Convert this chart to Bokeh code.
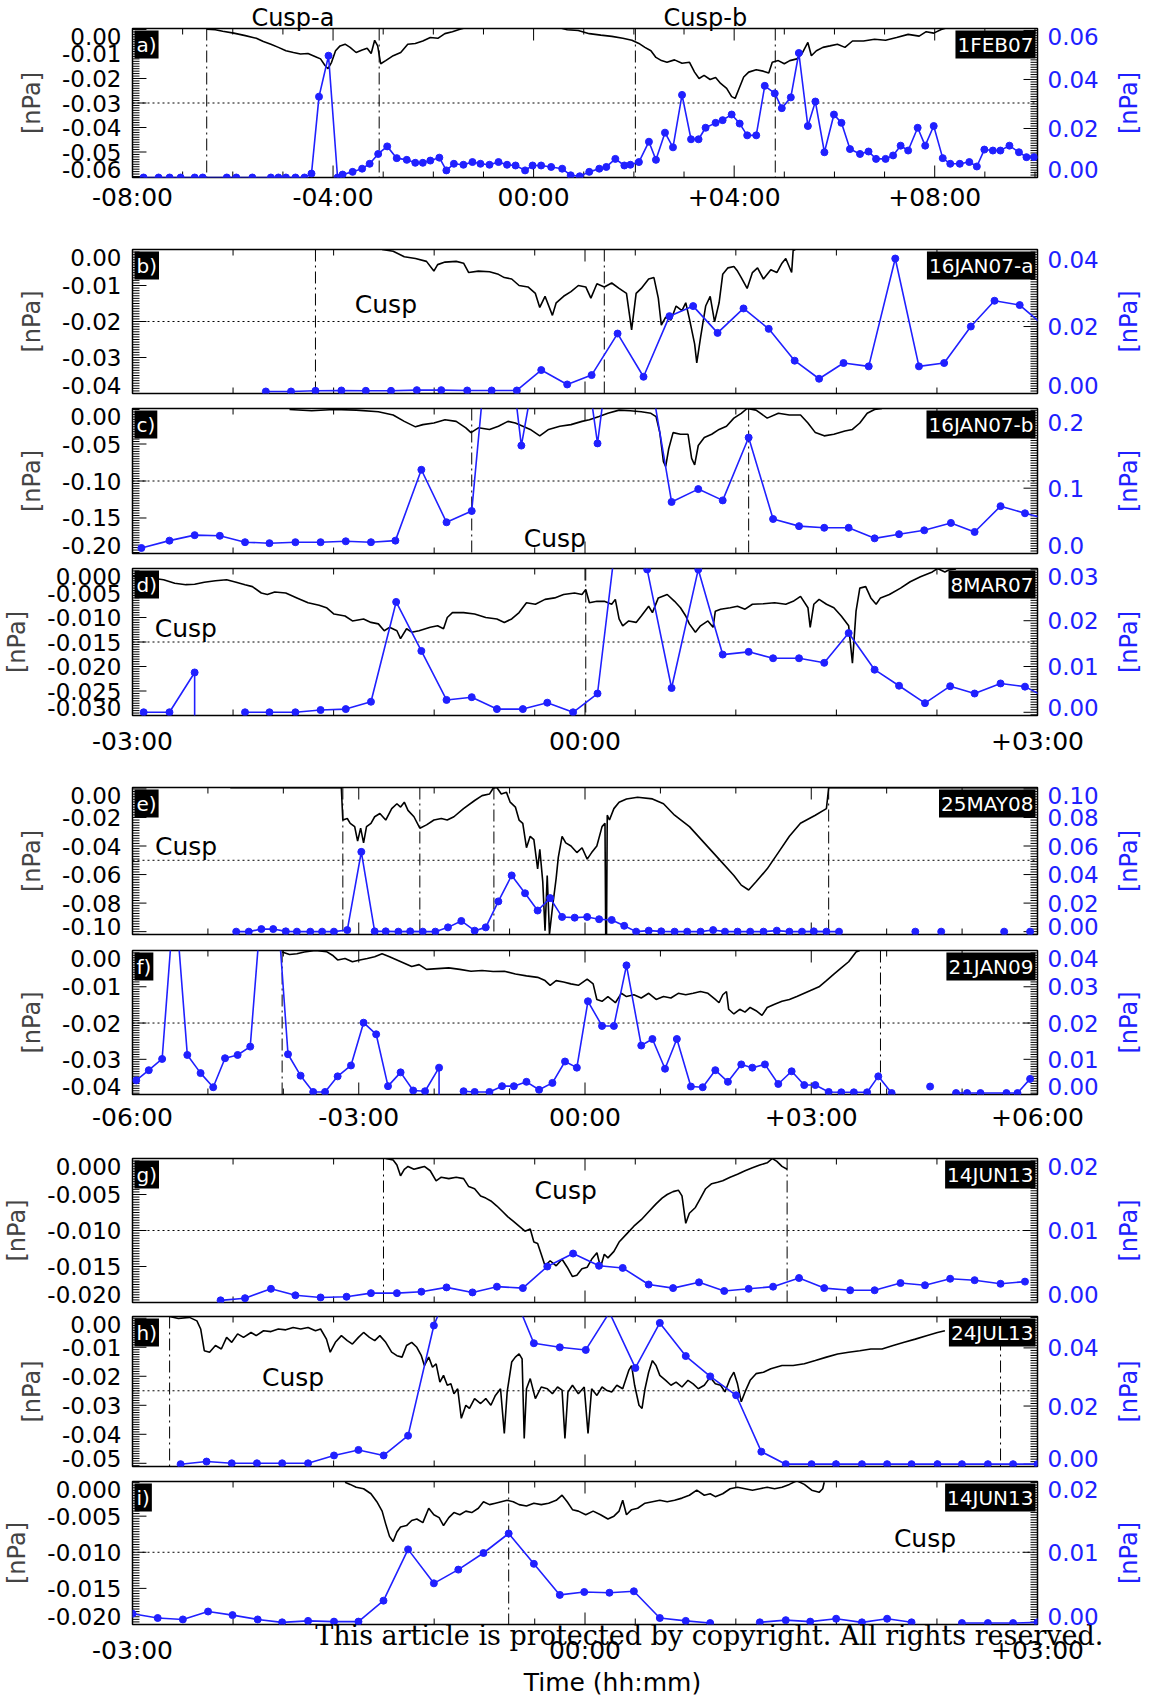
import math
from bokeh.plotting import figure
from bokeh.models import (Range1d, Span, Label, LinearAxis, FixedTicker,
                          CustomJSTickFormatter)
from bokeh.layouts import column
from bokeh.embed import file_html
from bokeh.resources import INLINE

NAN = float("nan")
SANS = "DejaVu Sans"
SERIF = "DejaVu Serif"
BLUE = "#2020ff"
FRAME_W = 907
BORDER_L = 130
BORDER_R = 123
TICK_PX = 23

# ---------------------------------------------------------------- data
# Each series: (time in hours from reference, pressure in nPa).
# Black = left axis (magnetic pressure change), blue = right axis.

A_BLACK = [(-6.52, 0.0001), (-6.35, -0.0001), (-6.20, -0.0007), (-5.98, -0.0015), (-5.75, -0.0025),
           (-5.53, -0.0036), (-5.39, -0.0049), (-5.24, -0.0060), (-5.09, -0.0073), (-4.94, -0.0087),
           (-4.79, -0.0094), (-4.65, -0.0100), (-4.50, -0.0098), (-4.35, -0.0111), (-4.25, -0.0120),
           (-4.16, -0.0147), (-4.10, -0.0160), (-4.03, -0.0134), (-3.95, -0.0087), (-3.86, -0.0067),
           (-3.76, -0.0060), (-3.66, -0.0073), (-3.54, -0.0094), (-3.42, -0.0084), (-3.32, -0.0077),
           (-3.24, -0.0098), (-3.17, -0.0044), (-3.11, -0.0067), (-3.05, -0.0140), (-2.95, -0.0127),
           (-2.80, -0.0107), (-2.65, -0.0094), (-2.51, -0.0060), (-2.36, -0.0057), (-2.21, -0.0047),
           (-2.06, -0.0033), (-1.91, -0.0036), (-1.77, -0.0017), (-1.62, -0.0009), (-1.47, 0.0001),
           (-1.32, 0.0009), (-0.29, 0.0020), (0.52, 0.0007), (0.67, -0.0001), (0.89, -0.0004),
           (1.11, -0.0017), (1.34, -0.0023), (1.56, -0.0028), (1.78, -0.0036), (1.96, -0.0044),
           (2.10, -0.0057), (2.22, -0.0073), (2.34, -0.0087), (2.44, -0.0114), (2.55, -0.0127),
           (2.66, -0.0134), (2.81, -0.0124), (2.96, -0.0138), (3.11, -0.0134), (3.21, -0.0174),
           (3.30, -0.0200), (3.40, -0.0187), (3.52, -0.0204), (3.63, -0.0196), (3.73, -0.0220),
           (3.85, -0.0240), (3.95, -0.0274), (4.02, -0.0281), (4.10, -0.0240), (4.19, -0.0194),
           (4.29, -0.0174), (4.44, -0.0164), (4.58, -0.0170), (4.69, -0.0178), (4.76, -0.0134),
           (4.88, -0.0127), (5.00, -0.0140), (5.11, -0.0127), (5.25, -0.0120), (5.35, -0.0100),
           (5.47, -0.0053), (5.54, -0.0107), (5.64, -0.0087), (5.77, -0.0073), (5.91, -0.0067),
           (6.06, -0.0060), (6.21, -0.0073), (6.36, -0.0047), (6.58, -0.0047), (6.80, -0.0040),
           (7.02, -0.0044), (7.24, -0.0033), (7.47, -0.0020), (7.69, -0.0027), (7.83, -0.0009),
           (7.98, -0.0015), (8.13, 0.0000), (8.28, 0.0009)]
A_BLUE = [(-7.78, 0.0), (-7.48, 0.0), (-7.26, 0.0), (-7.04, 0.0), (-6.76, 0.0), (-6.60, 0.0), (-6.12, 0.0),
          (-5.93, 0.0), (-5.61, 0.0), (-5.24, 0.0), (-5.09, 0.0), (-4.94, 0.0), (-4.75, 0.0), (-4.57, 0.0),
          (-4.43, 0.0016), (-4.28, 0.0330), (-4.09, 0.0497), (-3.91, 0.0), (-3.81, 0.0012), (-3.61, 0.0023),
          (-3.42, 0.0036), (-3.27, 0.0056), (-3.10, 0.0096), (-2.92, 0.0127), (-2.73, 0.0079), (-2.53, 0.0072),
          (-2.36, 0.0060), (-2.21, 0.0060), (-2.06, 0.0069), (-1.88, 0.0081), (-1.74, 0.0029), (-1.59, 0.0056),
          (-1.40, 0.0052), (-1.22, 0.0063), (-1.06, 0.0056), (-0.88, 0.0052), (-0.70, 0.0063), (-0.53, 0.0052),
          (-0.36, 0.0049), (-0.17, 0.0029), (-0.02, 0.0049), (0.15, 0.0049), (0.35, 0.0043), (0.57, 0.0036),
          (0.74, 0.0009), (0.92, 0.0005), (1.11, 0.0023), (1.31, 0.0036), (1.45, 0.0043), (1.63, 0.0076),
          (1.81, 0.0049), (1.93, 0.0052), (2.10, 0.0063), (2.30, 0.0146), (2.44, 0.0072), (2.62, 0.0183),
          (2.78, 0.0123), (2.96, 0.0337), (3.14, 0.0156), (3.29, 0.0156), (3.43, 0.0203), (3.63, 0.0223),
          (3.77, 0.0234), (3.95, 0.0257), (4.11, 0.0220), (4.26, 0.0172), (4.44, 0.0172), (4.61, 0.0374),
          (4.81, 0.0343), (4.95, 0.0283), (5.13, 0.0327), (5.29, 0.0508), (5.47, 0.0210), (5.62, 0.0310),
          (5.80, 0.0103), (5.99, 0.0257), (6.14, 0.0223), (6.31, 0.0116), (6.51, 0.0096), (6.68, 0.0106),
          (6.83, 0.0076), (7.02, 0.0076), (7.17, 0.0090), (7.32, 0.0130), (7.47, 0.0110), (7.66, 0.0203),
          (7.81, 0.0130), (7.98, 0.0210), (8.16, 0.0079), (8.31, 0.0056), (8.50, 0.0056), (8.69, 0.0063),
          (8.84, 0.0045), (8.99, 0.0114), (9.16, 0.0110), (9.31, 0.0110), (9.49, 0.0130), (9.68, 0.0103),
          (9.83, 0.0083), (9.98, 0.0083)]
A_BOUNDS = [-6.52, -3.08, 2.03, 4.82]

B_BLACK = [(-1.345, 0.0), (-1.272, -0.0005), (-1.198, -0.0020), (-1.124, -0.0025), (-1.051, -0.0033),
           (-1.002, -0.0060), (-0.977, -0.0042), (-0.928, -0.0035), (-0.854, -0.0033), (-0.805, -0.0038),
           (-0.771, -0.0064), (-0.707, -0.0060), (-0.633, -0.0062), (-0.574, -0.0069), (-0.535, -0.0078),
           (-0.486, -0.0082), (-0.437, -0.0100), (-0.378, -0.0104), (-0.329, -0.0122), (-0.300, -0.0161),
           (-0.265, -0.0130), (-0.216, -0.0183), (-0.191, -0.0148), (-0.142, -0.0130), (-0.093, -0.0117),
           (-0.044, -0.0100), (0.005, -0.0104), (0.039, -0.0135), (0.079, -0.0095), (0.128, -0.0104),
           (0.177, -0.0093), (0.226, -0.0108), (0.275, -0.0122), (0.309, -0.0223), (0.339, -0.0122),
           (0.373, -0.0108), (0.422, -0.0082), (0.457, -0.0078), (0.486, -0.0135), (0.506, -0.0210),
           (0.535, -0.0188), (0.570, -0.0196), (0.604, -0.0157), (0.643, -0.0170), (0.668, -0.0148),
           (0.692, -0.0192), (0.727, -0.0263), (0.741, -0.0315), (0.766, -0.0245), (0.800, -0.0157),
           (0.830, -0.0130), (0.859, -0.0201), (0.889, -0.0148), (0.913, -0.0069), (0.948, -0.0051),
           (0.987, -0.0047), (1.011, -0.0060), (1.036, -0.0078), (1.075, -0.0108), (1.110, -0.0064),
           (1.144, -0.0051), (1.183, -0.0082), (1.232, -0.0056), (1.272, -0.0064), (1.306, -0.0038),
           (1.331, -0.0025), (1.370, -0.0064), (1.380, -0.0003), (1.394, 0.0)]
B_BLUE = [(-2.116, 0.0006), (-1.949, 0.0006), (-1.787, 0.0008), (-1.615, 0.0009), (-1.453, 0.0008),
          (-1.286, 0.0008), (-1.115, 0.0010), (-0.953, 0.0010), (-0.781, 0.0009), (-0.619, 0.0009),
          (-0.452, 0.0009), (-0.290, 0.0070), (-0.118, 0.0027), (0.044, 0.0055), (0.216, 0.0179),
          (0.388, 0.0050), (0.560, 0.0231), (0.717, 0.0261), (0.879, 0.0181), (1.051, 0.0254),
          (1.218, 0.0193), (1.390, 0.0098), (1.552, 0.0044), (1.714, 0.0091), (1.881, 0.0081),
          (2.057, 0.0403), (2.214, 0.0081), (2.381, 0.0091), (2.558, 0.0200), (2.715, 0.0277),
          (2.882, 0.0264), (3.049, 0.0200)]
B_BOUNDS = [-1.787, 0.128]

C_BLACK = [(-1.959, -0.0033), (-1.812, -0.0050), (-1.664, -0.0033), (-1.517, -0.0042), (-1.370, -0.0064),
           (-1.272, -0.0107), (-1.198, -0.0194), (-1.124, -0.0268), (-1.075, -0.0238), (-1.002, -0.0216),
           (-0.928, -0.0172), (-0.854, -0.0194), (-0.790, -0.0281), (-0.756, -0.0346), (-0.707, -0.0281),
           (-0.633, -0.0303), (-0.574, -0.0259), (-0.511, -0.0194), (-0.462, -0.0216), (-0.412, -0.0259),
           (-0.363, -0.0303), (-0.300, -0.0390), (-0.241, -0.0303), (-0.167, -0.0259), (-0.093, -0.0238),
           (-0.020, -0.0194), (0.029, -0.0172), (0.093, -0.0129), (0.152, -0.0085), (0.226, -0.0042),
           (0.300, -0.0050), (0.373, -0.0064), (0.437, -0.0085), (0.471, -0.0129), (0.496, -0.0346),
           (0.520, -0.0738), (0.535, -0.0803), (0.555, -0.0564), (0.584, -0.0346), (0.633, -0.0368),
           (0.683, -0.0368), (0.707, -0.0694), (0.727, -0.0781), (0.751, -0.0520), (0.791, -0.0412),
           (0.840, -0.0368), (0.889, -0.0303), (0.938, -0.0259), (0.987, -0.0150), (1.036, -0.0085),
           (1.075, -0.0020), (1.134, -0.0042), (1.208, -0.0150), (1.282, -0.0085), (1.355, -0.0107),
           (1.429, -0.0107), (1.478, -0.0216), (1.527, -0.0346), (1.586, -0.0390), (1.650, -0.0368),
           (1.723, -0.0325), (1.773, -0.0303), (1.822, -0.0216), (1.871, -0.0085), (1.920, -0.0033),
           (1.969, -0.0020)]
C_BLUE = [(-2.941, 0.0084), (-2.755, 0.0197), (-2.588, 0.0281), (-2.421, 0.0271), (-2.254, 0.0173),
          (-2.092, 0.0158), (-1.920, 0.0173), (-1.753, 0.0173), (-1.586, 0.0187), (-1.419, 0.0173),
          (-1.257, 0.0197), (-1.085, 0.1282), (-0.918, 0.0478), (-0.751, 0.0651), (-0.584, 0.48),
          (-0.422, 0.1652), (-0.255, 0.38), (-0.088, 0.45), (0.083, 0.1686), (0.250, 0.47),
          (0.412, 0.30), (0.574, 0.0789), (0.751, 0.0986), (0.913, 0.0813), (1.085, 0.1775),
          (1.247, 0.0528), (1.419, 0.0419), (1.586, 0.0394), (1.748, 0.0394), (1.920, 0.0232),
          (2.082, 0.0296), (2.249, 0.0355), (2.426, 0.0468), (2.583, 0.0330), (2.755, 0.0725),
          (2.917, 0.0616), (3.083, 0.0518)]
C_BOUNDS = [-0.751, 1.085]

D_BLACK = [(-3.0, -0.0015), (-2.941, -0.0017), (-2.867, -0.0020), (-2.794, -0.0023), (-2.720, -0.0030),
           (-2.646, -0.0033), (-2.588, -0.0032), (-2.524, -0.0028), (-2.450, -0.0025), (-2.376, -0.0023),
           (-2.313, -0.0028), (-2.254, -0.0033), (-2.205, -0.0037), (-2.146, -0.0050), (-2.106, -0.0053),
           (-2.057, -0.0048), (-1.984, -0.0050), (-1.910, -0.0060), (-1.836, -0.0070), (-1.763, -0.0075),
           (-1.714, -0.0080), (-1.664, -0.0093), (-1.591, -0.0097), (-1.542, -0.0107), (-1.468, -0.0103),
           (-1.419, -0.0110), (-1.370, -0.0113), (-1.331, -0.0127), (-1.296, -0.0120), (-1.247, -0.0127),
           (-1.223, -0.0143), (-1.183, -0.0123), (-1.149, -0.0130), (-1.100, -0.0127), (-1.026, -0.0120),
           (-0.977, -0.0117), (-0.938, -0.0123), (-0.913, -0.0100), (-0.879, -0.0090), (-0.805, -0.0090),
           (-0.732, -0.0093), (-0.658, -0.0100), (-0.584, -0.0103), (-0.535, -0.0110), (-0.486, -0.0103),
           (-0.437, -0.0090), (-0.388, -0.0070), (-0.329, -0.0073), (-0.265, -0.0063), (-0.201, -0.0060),
           (-0.142, -0.0053), (-0.069, -0.0050), (-0.020, -0.0053), (0.005, -0.0043), (0.029, -0.0070),
           (0.079, -0.0067), (0.128, -0.0067), (0.177, -0.0073), (0.201, -0.0063), (0.226, -0.0103),
           (0.250, -0.0117), (0.290, -0.0107), (0.339, -0.0110), (0.373, -0.0097), (0.422, -0.0077),
           (0.447, -0.0090), (0.486, -0.0060), (0.545, -0.0053), (0.594, -0.0067), (0.633, -0.0080),
           (0.668, -0.0097), (0.692, -0.0113), (0.732, -0.0130), (0.766, -0.0117), (0.815, -0.0107),
           (0.849, -0.0120), (0.864, -0.0087), (0.899, -0.0083), (0.963, -0.0080), (1.011, -0.0077),
           (1.061, -0.0083), (1.110, -0.0073), (1.183, -0.0072), (1.257, -0.0070), (1.331, -0.0073),
           (1.380, -0.0067), (1.429, -0.0057), (1.478, -0.0080), (1.493, -0.0120), (1.517, -0.0073),
           (1.552, -0.0063), (1.601, -0.0073), (1.650, -0.0080), (1.699, -0.0097), (1.748, -0.0117),
           (1.773, -0.0193), (1.797, -0.0087), (1.822, -0.0040), (1.861, -0.0037), (1.895, -0.0060),
           (1.930, -0.0073), (1.959, -0.0060), (2.018, -0.0053), (2.092, -0.0040), (2.156, -0.0027),
           (2.224, -0.0017), (2.303, -0.0007), (2.337, 0.0), (2.386, -0.0007), (2.411, -0.0003),
           (2.460, -0.0001)]
D_BLUE = [(-2.926, 0.0), (-2.755, 0.0), (-2.588, 0.0087), (-2.588, -0.01), (NAN, NAN),
          (-2.254, 0.0), (-2.092, 0.0), (-1.920, 0.0), (-1.753, 0.0005), (-1.586, 0.0007),
          (-1.419, 0.0023), (-1.252, 0.0241), (-1.085, 0.0134), (-0.918, 0.0027), (-0.751, 0.0033),
          (-0.584, 0.0007), (-0.412, 0.0007), (-0.250, 0.0021), (-0.079, 0.0), (0.083, 0.0041),
          (0.250, 0.05), (0.412, 0.0312), (0.574, 0.0053), (0.751, 0.0312), (0.913, 0.0126),
          (1.085, 0.0132), (1.247, 0.0118), (1.419, 0.0118), (1.586, 0.0108), (1.748, 0.0173),
          (1.920, 0.0093), (2.082, 0.0058), (2.254, 0.0020), (2.421, 0.0057), (2.583, 0.0041),
          (2.755, 0.0063), (2.917, 0.0056), (3.083, 0.0028)]
D_BOUNDS = [0.005]

E_BLACK = [(-4.704, 0.0008), (-3.231, 0.0008), (-3.211, -0.0218), (-3.152, -0.0207), (-3.113, -0.0241),
           (-3.054, -0.0264), (-3.015, -0.0366), (-2.975, -0.0275), (-2.936, -0.0378), (-2.897, -0.0264),
           (-2.838, -0.0241), (-2.789, -0.0195), (-2.720, -0.0172), (-2.642, -0.0218), (-2.563, -0.0138),
           (-2.494, -0.0104), (-2.445, -0.0127), (-2.396, -0.0093), (-2.347, -0.0150), (-2.268, -0.0195),
           (-2.190, -0.0275), (-2.101, -0.0252), (-2.003, -0.0218), (-1.905, -0.0207), (-1.827, -0.0218),
           (-1.738, -0.0195), (-1.611, -0.0138), (-1.463, -0.0081), (-1.365, -0.0047), (-1.267, -0.0036),
           (-1.218, 0.0005), (-1.169, 0.0010), (-1.110, -0.0036), (-1.041, -0.0024), (-0.992, -0.0093),
           (-0.923, -0.0127), (-0.874, -0.0218), (-0.825, -0.0241), (-0.776, -0.0412), (-0.727, -0.0332),
           (-0.678, -0.0355), (-0.628, -0.0560), (-0.599, -0.0423), (-0.560, -0.0651), (-0.530, -0.0993),
           (-0.501, -0.0606), (-0.471, -0.1016), (-0.432, -0.0834), (-0.383, -0.0628), (-0.354, -0.0480),
           (-0.304, -0.0332), (-0.255, -0.0378), (-0.186, -0.0400), (-0.108, -0.0446), (-0.039, -0.0412),
           (0.029, -0.0492), (0.088, -0.0446), (0.157, -0.0400), (0.226, -0.0264), (0.265, -0.0241),
           (0.275, -0.106), (0.285, -0.106), (0.295, -0.0184), (0.324, -0.0218), (0.383, -0.0138),
           (0.452, -0.0093), (0.550, -0.0070), (0.697, -0.0058), (0.894, -0.0070), (1.041, -0.0104),
           (1.188, -0.0184), (1.385, -0.0264), (1.581, -0.0378), (1.777, -0.0492), (1.974, -0.0606),
           (2.072, -0.0674), (2.170, -0.0708), (2.268, -0.0651), (2.416, -0.0560), (2.563, -0.0446),
           (2.710, -0.0332), (2.857, -0.0241), (3.054, -0.0184), (3.201, -0.0138), (3.231, 0.0008),
           (6.0, 0.0008)]
E_BLUE = [(-4.625, 0.0), (-4.458, 0.0), (-4.291, 0.0018), (-4.134, 0.0018), (-3.967, 0.0002),
          (-3.820, 0.0), (-3.643, 0.0), (-3.486, 0.0), (-3.329, 0.0), (-3.152, 0.0011),
          (-2.966, 0.0559), (-2.789, 0.0002), (-2.642, 0.0002), (-2.475, 0.0), (-2.318, 0.0002),
          (-2.151, 0.0), (-1.984, 0.0), (-1.817, 0.0030), (-1.640, 0.0075), (-1.463, 0.0007),
          (-1.316, 0.0030), (-1.149, 0.0212), (-0.972, 0.0394), (-0.795, 0.0269), (-0.628, 0.0148),
          (-0.462, 0.0235), (-0.304, 0.0103), (-0.137, 0.0098), (0.029, 0.0103), (0.187, 0.0087),
          (0.354, 0.0082), (0.520, 0.0041), (0.678, 0.0), (0.845, 0.0007), (1.011, 0.0002),
          (1.188, 0.0), (1.355, 0.0), (1.532, 0.0), (1.699, 0.0011), (1.856, 0.0),
          (2.023, 0.0), (2.190, 0.0), (2.367, 0.0), (2.543, 0.0007), (2.710, 0.0),
          (2.877, 0.0), (3.034, 0.0002), (3.201, 0.0), (3.368, 0.0), (NAN, NAN),
          (4.380, 0.0), (NAN, NAN), (4.723, 0.0), (NAN, NAN), (5.558, 0.0), (NAN, NAN), (5.902, 0.0)]
E_BOUNDS = [-3.211, -2.190, -1.208, 3.231]

F_BLACK = [(-4.016, -0.0004), (-3.918, -0.0011), (-3.820, -0.0009), (-3.722, -0.0004), (-3.574, 0.0),
           (-3.427, -0.0003), (-3.349, -0.0013), (-3.280, -0.0026), (-3.182, -0.0022), (-3.084, -0.0031),
           (-2.985, -0.0026), (-2.887, -0.0022), (-2.789, -0.0017), (-2.691, -0.0009), (-2.592, -0.0017),
           (-2.494, -0.0026), (-2.396, -0.0035), (-2.298, -0.0044), (-2.200, -0.0039), (-2.101, -0.0052),
           (-1.954, -0.0050), (-1.807, -0.0048), (-1.660, -0.0052), (-1.512, -0.0057), (-1.365, -0.0055),
           (-1.218, -0.0058), (-1.070, -0.0057), (-0.923, -0.0065), (-0.776, -0.0070), (-0.628, -0.0074),
           (-0.530, -0.0083), (-0.462, -0.0096), (-0.383, -0.0083), (-0.285, -0.0087), (-0.187, -0.0092),
           (-0.088, -0.0096), (0.029, -0.0079), (0.108, -0.0092), (0.157, -0.0135), (0.226, -0.0140),
           (0.304, -0.0127), (0.403, -0.0144), (0.481, -0.0118), (0.550, -0.0127), (0.648, -0.0122),
           (0.746, -0.0131), (0.845, -0.0118), (0.943, -0.0135), (1.041, -0.0127), (1.139, -0.0131),
           (1.237, -0.0118), (1.336, -0.0122), (1.434, -0.0118), (1.532, -0.0113), (1.630, -0.0118),
           (1.728, -0.0135), (1.777, -0.0144), (1.827, -0.0122), (1.876, -0.0113), (1.905, -0.0162),
           (1.974, -0.0175), (2.052, -0.0162), (2.121, -0.0170), (2.190, -0.0157), (2.268, -0.0166),
           (2.347, -0.0179), (2.416, -0.0157), (2.514, -0.0148), (2.612, -0.0140), (2.710, -0.0135),
           (2.809, -0.0127), (2.907, -0.0118), (3.005, -0.0109), (3.103, -0.0100), (3.201, -0.0083),
           (3.300, -0.0065), (3.398, -0.0048), (3.496, -0.0031), (3.594, -0.0004), (3.643, 0.0)]
F_BLUE = [(-5.951, 0.0042), (-5.784, 0.0070), (-5.607, 0.0101), (-5.440, 0.056), (-5.273, 0.0112),
          (-5.097, 0.0062), (-4.930, 0.0023), (-4.773, 0.0103), (-4.606, 0.0112), (-4.439, 0.0135),
          (-4.262, 0.060), (-4.095, 0.057), (-3.938, 0.0114), (-3.771, 0.0055), (-3.604, 0.0010),
          (-3.447, 0.0010), (-3.280, 0.0053), (-3.103, 0.0083), (-2.936, 0.0201), (-2.769, 0.0169),
          (-2.612, 0.0026), (-2.445, 0.0064), (-2.278, 0.0014), (-2.121, 0.0012), (-1.935, 0.0077),
          (-1.935, -0.01), (NAN, NAN), (-1.610, 0.0012), (-1.463, 0.0010), (-1.267, 0.0010),
          (-1.100, 0.0026), (-0.943, 0.0026), (-0.776, 0.0038), (-0.609, 0.0016), (-0.432, 0.0035),
          (-0.265, 0.0094), (-0.108, 0.0077), (0.039, 0.0260), (0.226, 0.0192), (0.383, 0.0192),
          (0.550, 0.0359), (0.746, 0.0138), (0.894, 0.0156), (1.061, 0.0074), (1.218, 0.0156),
          (1.404, 0.0025), (1.561, 0.0023), (1.728, 0.0070), (1.895, 0.0038), (2.072, 0.0086),
          (2.219, 0.0077), (2.386, 0.0086), (2.563, 0.0032), (2.740, 0.0067), (2.907, 0.0029),
          (3.054, 0.0029), (3.231, 0.0010), (3.398, 0.0009), (3.565, 0.0009), (3.741, 0.0009),
          (3.889, 0.0053), (4.066, 0.0007), (NAN, NAN), (4.576, 0.0025), (NAN, NAN),
          (4.920, 0.0007), (5.067, 0.0007), (5.244, 0.0007), (5.588, 0.0007), (5.735, 0.0007),
          (5.902, 0.0046)]
F_BOUNDS = [-4.016, 3.918]

G_BLACK = [(-1.321, 0.0), (-1.272, -0.0002), (-1.247, -0.0009), (-1.223, -0.0024), (-1.198, -0.0015),
           (-1.173, -0.0011), (-1.134, -0.0015), (-1.100, -0.0013), (-1.065, -0.0011), (-1.026, -0.0017),
           (-0.987, -0.0031), (-0.953, -0.0026), (-0.903, -0.0028), (-0.854, -0.0026), (-0.805, -0.0028),
           (-0.771, -0.0039), (-0.732, -0.0042), (-0.692, -0.0052), (-0.658, -0.0055), (-0.624, -0.0059),
           (-0.584, -0.0066), (-0.545, -0.0074), (-0.511, -0.0081), (-0.476, -0.0087), (-0.437, -0.0094),
           (-0.398, -0.0101), (-0.363, -0.0098), (-0.339, -0.0116), (-0.314, -0.0118), (-0.290, -0.0133),
           (-0.265, -0.0149), (-0.231, -0.0142), (-0.191, -0.0149), (-0.152, -0.0140), (-0.118, -0.0151),
           (-0.083, -0.0164), (-0.054, -0.0162), (-0.020, -0.0153), (0.015, -0.0151), (0.044, -0.0140),
           (0.079, -0.0131), (0.103, -0.0151), (0.128, -0.0133), (0.152, -0.0138), (0.192, -0.0129),
           (0.226, -0.0116), (0.275, -0.0105), (0.324, -0.0094), (0.373, -0.0085), (0.422, -0.0074),
           (0.471, -0.0063), (0.511, -0.0055), (0.545, -0.0050), (0.584, -0.0046), (0.619, -0.0044),
           (0.643, -0.0052), (0.668, -0.0090), (0.692, -0.0076), (0.732, -0.0068), (0.766, -0.0055),
           (0.800, -0.0042), (0.840, -0.0035), (0.879, -0.0033), (0.913, -0.0031), (0.962, -0.0026),
           (1.011, -0.0022), (1.061, -0.0017), (1.110, -0.0013), (1.159, -0.0009), (1.208, -0.0006),
           (1.242, 0.0), (1.272, -0.0004), (1.306, -0.0011), (1.340, -0.0015)]
G_BLUE = [(-2.416, 0.0003), (-2.254, 0.0006), (-2.082, 0.0019), (-1.920, 0.0010), (-1.753, 0.0007),
          (-1.581, 0.0008), (-1.419, 0.0013), (-1.247, 0.0013), (-1.085, 0.0015), (-0.918, 0.0021),
          (-0.746, 0.0014), (-0.584, 0.0022), (-0.412, 0.0020), (-0.250, 0.0050), (-0.079, 0.0068),
          (0.093, 0.0051), (0.250, 0.0048), (0.422, 0.0025), (0.584, 0.0020), (0.756, 0.0028),
          (0.923, 0.0016), (1.085, 0.0019), (1.247, 0.0022), (1.419, 0.0034), (1.586, 0.0020),
          (1.758, 0.0017), (1.920, 0.0017), (2.092, 0.0027), (2.254, 0.0024), (2.421, 0.0033),
          (2.583, 0.0031), (2.755, 0.0026), (2.917, 0.0029)]
G_BOUNDS = [-1.336, 1.340]

H_BLACK = [(-2.754, 0.0006), (-2.696, -0.0001), (-2.622, 0.0003), (-2.573, -0.0009), (-2.548, -0.0037),
           (-2.524, -0.0112), (-2.489, -0.0117), (-2.450, -0.0094), (-2.411, -0.0106), (-2.376, -0.0066),
           (-2.342, -0.0083), (-2.303, -0.0054), (-2.264, -0.0066), (-2.214, -0.0049), (-2.180, -0.0060),
           (-2.131, -0.0043), (-2.082, -0.0046), (-2.033, -0.0037), (-1.984, -0.0040), (-1.935, -0.0032),
           (-1.885, -0.0037), (-1.836, -0.0032), (-1.787, -0.0043), (-1.753, -0.0037), (-1.714, -0.0072),
           (-1.689, -0.0117), (-1.655, -0.0083), (-1.615, -0.0060), (-1.576, -0.0077), (-1.542, -0.0089),
           (-1.502, -0.0066), (-1.468, -0.0049), (-1.429, -0.0066), (-1.394, -0.0077), (-1.360, -0.0060),
           (-1.321, -0.0083), (-1.282, -0.0117), (-1.247, -0.0129), (-1.213, -0.0134), (-1.183, -0.0094),
           (-1.149, -0.0083), (-1.115, -0.0100), (-1.085, -0.0129), (-1.065, -0.0163), (-1.036, -0.0134),
           (-1.011, -0.0169), (-0.987, -0.0157), (-0.962, -0.0220), (-0.938, -0.0197), (-0.913, -0.0231),
           (-0.889, -0.0226), (-0.869, -0.0260), (-0.844, -0.0243), (-0.820, -0.0345), (-0.790, -0.0300),
           (-0.766, -0.0311), (-0.732, -0.0277), (-0.692, -0.0294), (-0.658, -0.0277), (-0.624, -0.0300),
           (-0.594, -0.0266), (-0.560, -0.0243), (-0.535, -0.0397), (-0.516, -0.0254), (-0.486, -0.0151),
           (-0.462, -0.0134), (-0.437, -0.0123), (-0.417, -0.0140), (-0.403, -0.0414), (-0.388, -0.0243),
           (-0.363, -0.0208), (-0.329, -0.0277), (-0.290, -0.0237), (-0.250, -0.0243), (-0.216, -0.0260),
           (-0.182, -0.0237), (-0.152, -0.0248), (-0.133, -0.0414), (-0.113, -0.0254), (-0.083, -0.0231),
           (-0.044, -0.0260), (-0.005, -0.0237), (0.020, -0.0397), (0.044, -0.0243), (0.079, -0.0266),
           (0.113, -0.0237), (0.142, -0.0248), (0.177, -0.0254), (0.211, -0.0231), (0.250, -0.0243),
           (0.290, -0.0180), (0.309, -0.0163), (0.329, -0.0231), (0.358, -0.0300), (0.378, -0.0311),
           (0.398, -0.0243), (0.422, -0.0186), (0.447, -0.0146), (0.471, -0.0163), (0.496, -0.0197),
           (0.535, -0.0214), (0.570, -0.0231), (0.604, -0.0220), (0.643, -0.0237), (0.683, -0.0214),
           (0.717, -0.0226), (0.751, -0.0243), (0.791, -0.0231), (0.830, -0.0203), (0.864, -0.0226),
           (0.899, -0.0231), (0.928, -0.0254), (0.962, -0.0208), (0.987, -0.0186), (1.011, -0.0226),
           (1.036, -0.0288), (1.061, -0.0254), (1.095, -0.0214), (1.134, -0.0191), (1.183, -0.0186),
           (1.232, -0.0174), (1.306, -0.0163), (1.380, -0.0163), (1.454, -0.0157), (1.527, -0.0146),
           (1.601, -0.0134), (1.675, -0.0123), (1.748, -0.0117), (1.822, -0.0112), (1.895, -0.0106),
           (1.969, -0.0106), (2.043, -0.0094), (2.116, -0.0083), (2.190, -0.0072), (2.264, -0.0060),
           (2.337, -0.0049), (2.386, -0.0043)]
H_BLUE = [(-2.681, 0.0), (-2.509, 0.0009), (-2.342, 0.0003), (-2.175, 0.0003), (-2.008, 0.0003),
          (-1.836, 0.0003), (-1.664, 0.0030), (-1.502, 0.0049), (-1.335, 0.0030), (-1.173, 0.0098),
          (-1.002, 0.0477), (-0.835, 0.069), (-0.668, 0.075), (-0.501, 0.062), (-0.339, 0.0416),
          (-0.167, 0.0402), (0.005, 0.0393), (0.162, 0.0522), (0.334, 0.0331), (0.496, 0.0486),
          (0.668, 0.0372), (0.830, 0.0302), (1.002, 0.0237), (1.169, 0.0043), (1.331, 0.0),
          (1.502, 0.0), (1.664, 0.0), (1.836, 0.0), (2.003, 0.0), (2.165, 0.0), (2.337, 0.0),
          (2.499, 0.0), (2.671, 0.0), (2.838, 0.0), (3.0, 0.0)]
H_BOUNDS = [-2.754, 2.755]

I_BLACK = [(-1.591, -0.0003), (-1.557, -0.0006), (-1.517, -0.0010), (-1.468, -0.0012), (-1.419, -0.0019),
           (-1.380, -0.0030), (-1.345, -0.0043), (-1.321, -0.0061), (-1.296, -0.0078), (-1.272, -0.0085),
           (-1.247, -0.0072), (-1.223, -0.0065), (-1.183, -0.0063), (-1.149, -0.0056), (-1.115, -0.0054),
           (-1.075, -0.0059), (-1.036, -0.0039), (-1.002, -0.0048), (-0.967, -0.0052), (-0.938, -0.0063),
           (-0.903, -0.0052), (-0.869, -0.0045), (-0.830, -0.0048), (-0.790, -0.0043), (-0.751, -0.0045),
           (-0.707, -0.0039), (-0.673, -0.0030), (-0.633, -0.0034), (-0.594, -0.0032), (-0.555, -0.0030),
           (-0.516, -0.0028), (-0.476, -0.0030), (-0.437, -0.0034), (-0.388, -0.0036), (-0.339, -0.0032),
           (-0.290, -0.0034), (-0.241, -0.0032), (-0.191, -0.0028), (-0.152, -0.0021), (-0.118, -0.0030),
           (-0.083, -0.0041), (-0.044, -0.0043), (0.005, -0.0048), (0.054, -0.0043), (0.103, -0.0048),
           (0.152, -0.0054), (0.192, -0.0050), (0.226, -0.0043), (0.250, -0.0028), (0.275, -0.0048),
           (0.309, -0.0041), (0.349, -0.0039), (0.398, -0.0032), (0.447, -0.0030), (0.496, -0.0028),
           (0.545, -0.0030), (0.594, -0.0028), (0.643, -0.0025), (0.692, -0.0021), (0.741, -0.0014),
           (0.791, -0.0021), (0.830, -0.0019), (0.864, -0.0023), (0.913, -0.0019), (0.962, -0.0012),
           (1.011, -0.0010), (1.061, -0.0012), (1.110, -0.0014), (1.159, -0.0012), (1.208, -0.0010),
           (1.257, -0.0012), (1.306, -0.0010), (1.355, -0.0006), (1.404, -0.0001), (1.454, -0.0006),
           (1.503, -0.0014), (1.552, -0.0017), (1.576, -0.0012), (1.586, -0.0003)]
I_BLUE = [(-3.0, 0.0015), (-2.833, 0.0009), (-2.666, 0.0007), (-2.499, 0.0018), (-2.337, 0.0013),
          (-2.170, 0.0007), (-2.008, 0.0003), (-1.836, 0.0005), (-1.664, 0.0004), (-1.502, 0.0004),
          (-1.336, 0.0033), (-1.173, 0.0104), (-1.002, 0.0057), (-0.840, 0.0076), (-0.673, 0.0099),
          (-0.506, 0.0126), (-0.339, 0.0084), (-0.167, 0.0041), (-0.005, 0.0045), (0.162, 0.0044),
          (0.324, 0.0046), (0.496, 0.0009), (0.668, 0.0005), (0.830, 0.0002), (NAN, NAN),
          (1.159, 0.0003), (1.331, 0.0006), (1.493, 0.0004), (1.665, 0.0008), (1.836, 0.0003),
          (2.003, 0.0008), (2.165, 0.0003), (NAN, NAN), (2.499, 0.0002), (2.671, 0.0002),
          (2.838, 0.0002), (3.0, 0.0003)]
I_BOUNDS = [-0.506]

# axis tick values and their printed labels
L2 = [0.0, -0.01, -0.02, -0.03, -0.04, -0.05, -0.06]
L2_TXT = ["0.00", "-0.01", "-0.02", "-0.03", "-0.04", "-0.05", "-0.06"]
L5 = [0.0, -0.05, -0.10, -0.15, -0.20]
L5_TXT = ["0.00", "-0.05", "-0.10", "-0.15", "-0.20"]
L3 = [0.0, -0.005, -0.010, -0.015, -0.020, -0.025, -0.030]
L3_TXT = ["0.000", "-0.005", "-0.010", "-0.015", "-0.020", "-0.025", "-0.030"]
LE = [0.0, -0.02, -0.04, -0.06, -0.08, -0.10]
LE_TXT = ["0.00", "-0.02", "-0.04", "-0.06", "-0.08", "-0.10"]
R2 = [0.0, 0.02, 0.04, 0.06, 0.08, 0.10]
R2_TXT = ["0.00", "0.02", "0.04", "0.06", "0.08", "0.10"]
R1 = [0.0, 0.01, 0.02, 0.03, 0.04]
R1_TXT = ["0.00", "0.01", "0.02", "0.03", "0.04"]
RC = [0.0, 0.1, 0.2]
RC_TXT = ["0.0", "0.1", "0.2"]

X_A = [-8, -4, 0, 4, 8]
X_A_TXT = ["-08:00", "-04:00", "00:00", "+04:00", "+08:00"]
X_3 = [-3, 0, 3]
X_3_TXT = ["-03:00", "00:00", "+03:00"]
X_6 = [-6, -3, 0, 3, 6]
X_6_TXT = ["-06:00", "-03:00", "00:00", "+03:00", "+06:00"]

UNIT = "[nPa]"
TIME_TITLE = "Time (hh:mm)"
NOTICE = "This article is protected by copyright. All rights reserved."


def minor_positions(lo, hi, step, frame_px, spacing=2.5):
    """Dense minor ticks between multiples of the major step."""
    a, b = min(lo, hi), max(lo, hi)
    n_sub = max(2, int(round(step / (b - a) * frame_px / spacing)))
    sub = step / n_sub
    out = []
    for k in range(math.ceil(a / sub - 1e-9), math.floor(b / sub + 1e-9) + 1):
        if k % n_sub != 0:
            out.append(k * sub)
    return out


def in_range(vals, lo, hi):
    return [v for v in vals if lo - 1e-12 <= v <= hi + 1e-12]


def edge_safe(ticks, labels, lo, hi, frame_px, margin=8):
    """Label anchor positions; labels of edge ticks are pulled inside the frame."""
    pos, txt = [], []
    for t, s in zip(ticks, labels):
        px = (hi - t) / (hi - lo) * frame_px
        if px < -3 or px > frame_px + 3:
            continue
        c = min(max(px, margin), frame_px - margin)
        pos.append(hi - c / frame_px * (hi - lo))
        txt.append(s)
    return pos, txt


def fixed_labels(ticks, labels):
    keys = [f"{t:.7f}" for t in ticks]
    return CustomJSTickFormatter(args=dict(keys=keys, labels=list(labels)),
                                 code="const i = keys.indexOf(tick.toFixed(7)); "
                                      "return i < 0 ? '' : labels[i];")


def text_axis(ax, ticks, labels, font, size, color, standoff):
    ax.ticker = FixedTicker(ticks=list(ticks), minor_ticks=[])
    ax.formatter = fixed_labels(ticks, labels)
    ax.major_tick_in = 0
    ax.major_tick_out = 0
    ax.minor_tick_in = 0
    ax.minor_tick_out = 0
    ax.major_tick_line_color = None
    ax.minor_tick_line_color = None
    ax.axis_line_color = None
    ax.major_label_text_font = font
    ax.major_label_text_font_size = size
    ax.major_label_text_color = color
    ax.major_label_standoff = standoff
    return ax


def label_width(txt, px=TICK_PX):
    return px * sum(0.318 if ch == "." else 0.636 for ch in txt)


def build(cfg):
    x0, x1 = cfg["xr"]
    yl0, yl1 = cfg["yl"]
    yr0, yr1 = cfg["yr"]
    H = cfg["h"]
    p = figure(width=1160, height=cfg["top"] + H + cfg["bottom"],
               x_range=Range1d(x0, x1), y_range=Range1d(yl0, yl1),
               x_axis_location=None, y_axis_location="left",
               min_border_left=BORDER_L, min_border_right=BORDER_R,
               min_border_top=cfg["top"], min_border_bottom=cfg["bottom"],
               output_backend="svg", toolbar_location=None)
    p.extra_y_ranges = {"r": Range1d(yr0, yr1)}
    p.grid.visible = False
    p.outline_line_color = "black"
    p.outline_line_width = 1.5
    p.background_fill_color = "white"
    p.border_fill_color = "white"

    dx = (x1 - x0) / FRAME_W
    dyl = (yl1 - yl0) / H
    tick_size = f"{TICK_PX}px"

    # left axis: labels only (the tick marks are drawn inside the frame below)
    pos, txt = edge_safe(cfg["lt"], cfg["ltxt"], yl0, yl1, H)
    lax = text_axis(p.yaxis[0], pos, txt, SANS, tick_size, "black", 11)
    lax.axis_label = UNIT
    lax.axis_label_text_font = SANS
    lax.axis_label_text_font_size = "24px"
    lax.axis_label_text_font_style = "normal"
    lax.axis_label_standoff = 13

    # right axis values, then the unit written bottom-to-top on an outer axis
    pos, txt = edge_safe(cfg["rt"], cfg["rtxt"], yr0, yr1, H)
    p.add_layout(text_axis(LinearAxis(y_range_name="r"), pos, txt, SANS, tick_size, BLUE, 10),
                 "right")
    widest = max(label_width(s) for s in txt)
    # the rotated unit label starts at its anchor, so anchor it half its length below centre
    unit_anchor = (yr0 + yr1) / 2 - 31.0 / H * (yr1 - yr0)
    uax = text_axis(LinearAxis(y_range_name="r"), [unit_anchor], [UNIT], SANS, "24px",
                    BLUE, int(round(78 - widest)))
    uax.major_label_orientation = math.pi / 2
    p.add_layout(uax, "right")

    if cfg.get("titles"):
        tt, ts = zip(*cfg["titles"])
        p.add_layout(text_axis(LinearAxis(), tt, ts, SANS, "24px", "black", -3), "above")

    if cfg.get("notice"):
        p.add_layout(text_axis(LinearAxis(), [cfg["notice"]], [NOTICE], SERIF, "27px",
                               "black", -5), "below")
    if cfg.get("xtxt"):
        p.add_layout(text_axis(LinearAxis(), cfg["xt"], cfg["xtxt"], SANS, "25px",
                               "black", cfg["xstand"]), "below")
    if cfg.get("time"):
        p.add_layout(text_axis(LinearAxis(), [cfg["time"]], [TIME_TITLE], SANS, "25px",
                               "black", 0), "below")

    # reference lines
    p.add_layout(Span(location=cfg["dotted"], dimension="width", line_dash="2 3",
                      line_color="black", line_width=1, level="underlay"))
    for b in cfg["bounds"]:
        p.add_layout(Span(location=b, dimension="height", line_dash="12 4 2 4",
                          line_color="black", line_width=1, level="underlay"))

    # inward ticks, left axis
    lmaj = in_range(cfg["lt"], yl0, yl1)
    lmin = minor_positions(yl0, yl1, cfg["lstep"], H)
    p.segment(x0=[x0] * len(lmaj), y0=lmaj, x1=[x0 + 14 * dx] * len(lmaj), y1=lmaj,
              line_color="black", line_width=1)
    p.segment(x0=[x0] * len(lmin), y0=lmin, x1=[x0 + 7 * dx] * len(lmin), y1=lmin,
              line_color="black", line_width=1)
    # inward ticks, right axis
    rmaj = in_range(cfg["rt"], yr0, yr1)
    rmin = minor_positions(yr0, yr1, cfg["rstep"], H)
    p.segment(x0=[x1 - 14 * dx] * len(rmaj), y0=rmaj, x1=[x1] * len(rmaj), y1=rmaj,
              line_color="black", line_width=1, y_range_name="r")
    p.segment(x0=[x1 - 7 * dx] * len(rmin), y0=rmin, x1=[x1] * len(rmin), y1=rmin,
              line_color="black", line_width=1, y_range_name="r")
    # inward ticks, bottom and top
    xmaj = in_range(cfg["xt"], x0, x1)
    xmin = in_range(cfg["xminor"], x0, x1)
    for yb, sgn in ((yl0, 1), (yl1, -1)):
        p.segment(x0=xmaj, y0=[yb] * len(xmaj), x1=xmaj, y1=[yb + sgn * 12 * dyl] * len(xmaj),
                  line_color="black", line_width=1)
        p.segment(x0=xmin, y0=[yb] * len(xmin), x1=xmin, y1=[yb + sgn * 6 * dyl] * len(xmin),
                  line_color="black", line_width=1)

    # data
    bt, bv = zip(*cfg["black"])
    p.line(list(bt), list(bv), line_color="black", line_width=1.6)
    ct, cv = zip(*cfg["blue"])
    p.line(list(ct), list(cv), line_color=BLUE, line_width=1.6, y_range_name="r")
    p.scatter(list(ct), list(cv), size=7, color=BLUE, y_range_name="r")

    # panel tag and event date
    p.add_layout(Label(x=x0, y=yl1, x_offset=2, y_offset=-2, text=cfg["tag"],
                       text_align="left", text_baseline="top", text_color="white",
                       background_fill_color="black", padding=2,
                       text_font=SANS, text_font_size="20px"))
    p.add_layout(Label(x=x1, y=yl1, x_offset=-2, y_offset=-2, text=cfg["date"],
                       text_align="right", text_baseline="top", text_color="white",
                       background_fill_color="black", padding=2,
                       text_font=SANS, text_font_size="20px"))

    for (tx, ty, s) in cfg.get("cusp", []):
        p.add_layout(Label(x=tx, y=ty, text=s, text_align="center", text_baseline="middle",
                           text_color="black", text_font=SANS, text_font_size="25px"))
    return p


MINOR_A = [float(k) for k in range(-8, 11) if k % 4 != 0]
MINOR_3 = [-2 - 1 / 3, -1 - 2 / 3, -1.0, -1 / 3, 1 / 3, 1.0, 1 + 2 / 3, 2 + 1 / 3]
MINOR_6 = [float(k) for k in range(-6, 7) if k % 3 != 0]

PANELS = [
    dict(tag="a)", date="1FEB07", top=28, h=149, bottom=37,
         xr=(-8, 10.05), yl=(-0.0604, 0.0004), yr=(0.0, 0.0608),
         lt=L2, ltxt=L2_TXT, lstep=0.01, rt=R2[:4], rtxt=R2_TXT[:4], rstep=0.02,
         xt=X_A, xtxt=X_A_TXT, xstand=5, xminor=MINOR_A, dotted=-0.03, bounds=A_BOUNDS,
         black=A_BLACK, blue=A_BLUE,
         titles=[(-4.80, "Cusp-a"), (3.425, "Cusp-b")]),
    dict(tag="b)", date="16JAN07-a", top=35, h=144, bottom=7,
         xr=(-3, 3), yl=(-0.04, 0.0), yr=(0.0, 0.043),
         lt=L2[:5], ltxt=L2_TXT[:5], lstep=0.01, rt=R2[:3], rtxt=R2_TXT[:3], rstep=0.02,
         xt=X_3, xminor=MINOR_3, dotted=-0.02, bounds=B_BOUNDS,
         black=B_BLACK, blue=B_BLUE, cusp=[(-1.32, -0.0153, "Cusp")]),
    dict(tag="c)", date="16JAN07-b", top=8, h=145, bottom=7,
         xr=(-3, 3), yl=(-0.198, -0.002), yr=(0.0, 0.222),
         lt=L5, ltxt=L5_TXT, lstep=0.05, rt=RC, rtxt=RC_TXT, rstep=0.1,
         xt=X_3, xminor=MINOR_3, dotted=-0.10, bounds=C_BOUNDS,
         black=C_BLACK, blue=C_BLUE, cusp=[(-0.20, -0.178, "Cusp")]),
    dict(tag="d)", date="8MAR07", top=8, h=147, bottom=55,
         xr=(-3, 3), yl=(-0.03, 0.0), yr=(-0.0007, 0.0314),
         lt=L3, ltxt=L3_TXT, lstep=0.005, rt=R1[:4], rtxt=R1_TXT[:4], rstep=0.01,
         xt=X_3, xtxt=X_3_TXT, xstand=11, xminor=MINOR_3, dotted=-0.015, bounds=D_BOUNDS,
         black=D_BLACK, blue=D_BLUE, cusp=[(-2.646, -0.0123, "Cusp")]),
    dict(tag="e)", date="25MAY08", top=17, h=147, bottom=8,
         xr=(-6, 6), yl=(-0.102, 0.001), yr=(-0.002, 0.101),
         lt=LE, ltxt=LE_TXT, lstep=0.02, rt=R2, rtxt=R2_TXT, rstep=0.02,
         xt=X_6, xminor=MINOR_6, dotted=-0.05, bounds=E_BOUNDS,
         black=E_BLACK, blue=E_BLUE, cusp=[(-5.29, -0.040, "Cusp")]),
    dict(tag="f)", date="21JAN09", top=8, h=144, bottom=46,
         xr=(-6, 6), yl=(-0.0397, 0.0), yr=(0.0003, 0.04),
         lt=L2[:5], ltxt=L2_TXT[:5], lstep=0.01, rt=R1, rtxt=R1_TXT, rstep=0.01,
         xt=X_6, xtxt=X_6_TXT, xstand=8, xminor=MINOR_6, dotted=-0.02, bounds=F_BOUNDS,
         black=F_BLACK, blue=F_BLUE),
    dict(tag="g)", date="14JUN13", top=18, h=144, bottom=7,
         xr=(-3, 3), yl=(-0.02, 0.0), yr=(0.0, 0.02),
         lt=L3[:5], ltxt=L3_TXT[:5], lstep=0.005, rt=R1[:3], rtxt=R1_TXT[:3], rstep=0.01,
         xt=X_3, xminor=MINOR_3, dotted=-0.010, bounds=G_BOUNDS,
         black=G_BLACK, blue=G_BLUE, cusp=[(-0.128, -0.0045, "Cusp")]),
    dict(tag="h)", date="24JUL13", top=7, h=150, bottom=8,
         xr=(-3, 3), yl=(-0.0511, 0.0006), yr=(-0.0008, 0.0508),
         lt=L2[:6], ltxt=L2_TXT[:6], lstep=0.01, rt=R2[:3], rtxt=R2_TXT[:3], rstep=0.02,
         xt=X_3, xminor=MINOR_3, dotted=-0.025, bounds=H_BOUNDS,
         black=H_BLACK, blue=H_BLUE, cusp=[(-1.935, -0.0203, "Cusp")]),
    dict(tag="i)", date="14JUN13", top=7, h=143, bottom=75,
         xr=(-3, 3), yl=(-0.02, -0.0002), yr=(0.0, 0.0198),
         lt=L3[:5], ltxt=L3_TXT[:5], lstep=0.005, rt=R1[:3], rtxt=R1_TXT[:3], rstep=0.01,
         xt=X_3, xtxt=X_3_TXT, xstand=-18, xminor=MINOR_3, dotted=-0.010, bounds=I_BOUNDS,
         black=I_BLACK, blue=I_BLUE, cusp=[(2.254, -0.0081, "Cusp")],
         notice=0.824, time=0.182),
]

figs = [build(cfg) for cfg in PANELS]
layout = column(*figs, spacing=0)
open("out.html", "w").write(file_html(layout, INLINE, title="Cusp pressure panels"))
